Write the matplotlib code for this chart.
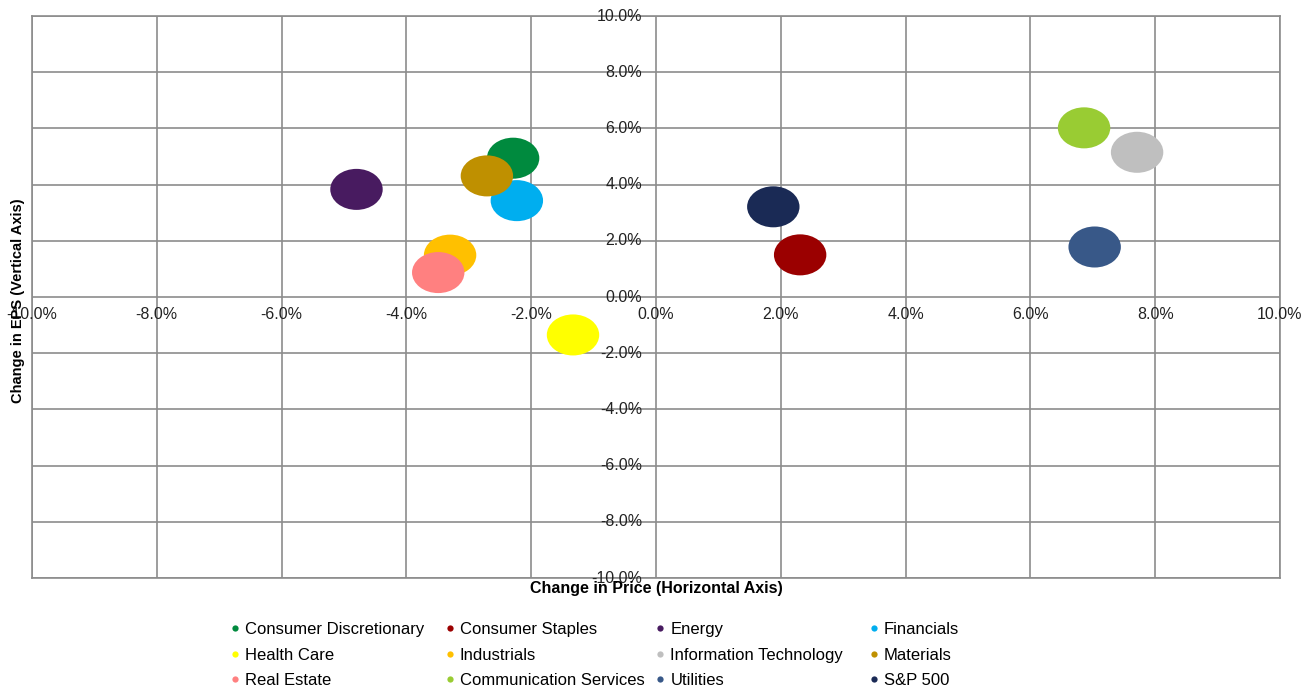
import matplotlib
matplotlib.use("Agg")
import matplotlib.pyplot as plt
from matplotlib.patches import Ellipse
from matplotlib.lines import Line2D

plt.rcParams["font.family"] = ["Liberation Sans", "DejaVu Sans"]

sectors = [
    "Consumer Discretionary", "Consumer Staples", "Energy", "Financials",
    "Health Care", "Industrials", "Information Technology", "Materials",
    "Real Estate", "Communication Services", "Utilities", "S&P 500",
]
price_change = [-2.29, 2.31, -4.80, -2.23, -1.33, -3.30, 7.71, -2.71, -3.49, 6.86, 7.03, 1.88]
eps_change = [4.94, 1.50, 3.83, 3.43, -1.35, 1.49, 5.15, 4.31, 0.87, 6.02, 1.78, 3.21]
colors = [
    "#008A3E", "#9B0000", "#481B60", "#00AEEF",
    "#FFFF00", "#FFC000", "#BFBFBF", "#BF9000",
    "#FF8080", "#99CC33", "#385888", "#1A2A55",
]
ticks = [-10, -8, -6, -4, -2, 0, 2, 4, 6, 8, 10]

fig = plt.figure(figsize=(13.12, 6.9), dpi=100)
ax = fig.add_axes([0.0244, 0.1623, 0.9512, 0.8145])
ax.set_xlim(-10, 10)
ax.set_ylim(-10, 10)

for x, y, c in zip(price_change, eps_change, colors):
    ax.add_patch(Ellipse((x, y), width=0.84, height=1.46, facecolor=c, edgecolor="none", zorder=3))

ax.set_xticks(ticks)
ax.set_yticks(ticks)
ax.tick_params(length=0, labelbottom=False, labelleft=False)
ax.grid(True, color="#8C8C8C", linewidth=1.2)
for s in ax.spines.values():
    s.set_color("#8C8C8C")
    s.set_linewidth(1.2)

# tick labels sit on the zero lines
for t in ticks:
    ax.annotate(f"{t:.1f}%", (t, 0), xytext=(0, -7.5), textcoords="offset points",
                ha="center", va="top", fontsize=11.5, color="#222222", zorder=4)
    ax.annotate(f"{t:.1f}%", (0, t), xytext=(-10, 0), textcoords="offset points",
                ha="right", va="center", fontsize=11.5, color="#222222", zorder=4)

fig.text(0.5, 0.1464, "Change in Price (Horizontal Axis)", ha="center", va="center",
         fontsize=11.5, fontweight="bold")
fig.text(0.0135, 0.5638, "Change in EPS (Vertical Axis)", ha="center", va="center",
         rotation=90, fontsize=10.5, fontweight="bold")

col_x = [0.1761, 0.3395, 0.5001, 0.663]
for col in range(4):
    idx = [col, col + 4, col + 8]
    handles = [Line2D([], [], marker="o", linestyle="none", markersize=4.5,
                      markerfacecolor=colors[i], markeredgecolor="none") for i in idx]
    fig.legend(handles, [sectors[i] for i in idx], loc="upper left",
               bbox_to_anchor=(col_x[col], 0.0986), frameon=False, fontsize=12,
               handlelength=0.5, handletextpad=0.35, labelspacing=0.64,
               borderpad=0.0, borderaxespad=0.0)

fig.savefig("out.png", dpi=100)
